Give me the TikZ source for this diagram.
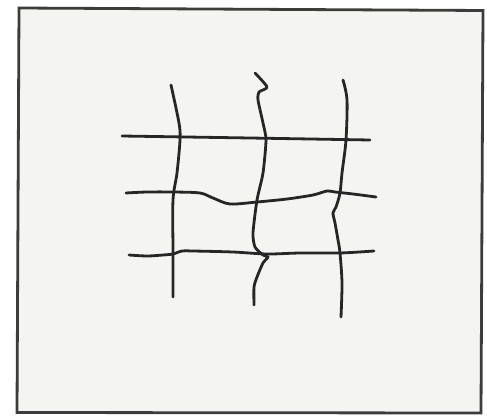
\documentclass[tikz,border=0pt]{standalone}
\usepackage{tikz}
\definecolor{paper}{RGB}{244,245,242}
\definecolor{ink}{RGB}{38,38,38}

\begin{document}
\begin{tikzpicture}[x=1pt, y=-1pt,
    crack/.style={ink, line width=2.8pt, line cap=round, line join=round},
    frame/.style={draw=ink!90, line width=2.8pt, fill=paper}]
        \useasboundingbox (0,0) rectangle (487,417);
        \fill[white] (0,0) rectangle (487,417);
        % frame
        \draw[frame] (19,8) -- (483,10.5) -- (481,413) -- (17,412.5) -- cycle;
        % horizontal lines
        \draw[crack] plot[smooth, tension=0.5] coordinates {(122,136) (250,138) (370,140)};
        \draw[crack] plot[smooth, tension=0.5] coordinates {(126,193) (147,192) (173,192) (200,193) (213,198) (230,204) (257,202) (287,199) (313,195) (327,191) (335,192) (353,194) (376,197)};
        \draw[crack] plot[smooth, tension=0.5] coordinates {(129,255) (147,256) (163,255) (173,254) (182,251) (193,251) (233,252) (267,254) (300,253) (340,253) (374,251)};
        % vertical lines
        \draw[crack] plot[smooth, tension=0.5] coordinates {(171,85) (179,123) (180,140) (177,173) (173,200) (173,253) (173,297)};
        \draw[crack] plot[smooth, tension=0.4] coordinates {(255,73) (267,87) (259,92) (258,100) (263,123) (266,140) (263,173) (257,200) (253,233) (255,247) (263,255) (268,257) (263,263) (257,277) (254,287) (254,305)};
        \draw[crack] plot[smooth, tension=0.5] coordinates {(343,80) (347,100) (346,140) (342,173) (340,193) (336,207) (333,213) (335,223) (338,240) (340,253) (342,283) (341,317)};
    \end{tikzpicture}
\end{document}
